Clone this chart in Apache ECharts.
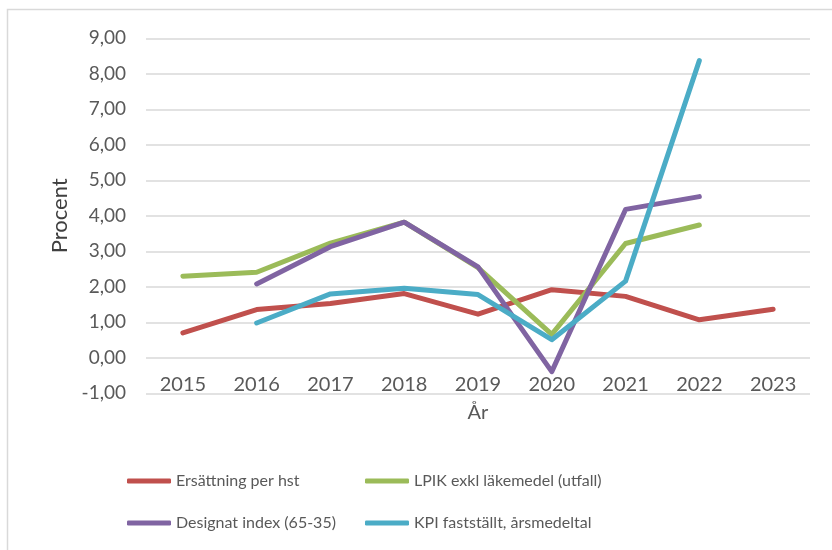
<!DOCTYPE html>
<html>
<head>
<meta charset="utf-8">
<script src="https://cdn.jsdelivr.net/npm/echarts@6/dist/echarts.min.js"></script>
<style>html,body{margin:0;padding:0;background:#fff}#c{width:832px;height:550px}</style>
</head>
<body>
<div id="c"></div>
<script>
const categories = ['2015','2016','2017','2018','2019','2020','2021','2022','2023'];
const ersattning = [0.70, 1.36, 1.53, 1.81, 1.23, 1.92, 1.73, 1.07, 1.37];
const lpik       = [2.30, 2.41, 3.23, 3.82, 2.54, 0.66, 3.22, 3.74, null];
const designat   = [null, 2.08, 3.13, 3.82, 2.56, -0.39, 4.18, 4.54, null];
const kpi        = [null, 0.98, 1.80, 1.96, 1.78, 0.51, 2.16, 8.37, null];
const seriesNames = ['Ersättning per hst','LPIK exkl läkemedel (utfall)','Designat index (65-35)','KPI fastställt, årsmedeltal'];
const colors = ['#C0504D','#9BBB59','#8064A2','#4BACC6'];

const font = 'Lato, "Noto Sans", sans-serif';
const chart = echarts.init(document.getElementById('c'), null, {renderer:'canvas'});
const mk = (name, data, color) => ({
  name, type:'line', data, symbol:'none', connectNulls:false,
  lineStyle:{color, width:5, cap:'round', join:'round'},
  itemStyle:{color}
});
chart.setOption({
  animation:false,
  backgroundColor:'#fff',
  graphic:[{type:'rect', shape:{x:7.5,y:9.5,width:840,height:560},
    style:{fill:'none', stroke:'#d9d9d9', lineWidth:1.5}, silent:true}],
  grid:{left:146, right:22, top:38.3, bottom:156.7, containLabel:false},
  xAxis:{type:'category', data:categories, boundaryGap:true, offset:-35.5,
    axisLine:{show:false}, axisTick:{show:false},
    axisLabel:{color:'#595959', fontSize:20, fontFamily:font, margin:17},
    name:'År', nameLocation:'middle', nameGap:45,
    nameTextStyle:{color:'#595959', fontSize:20, fontFamily:font}},
  yAxis:{type:'value', min:-1, max:9, interval:1,
    axisLine:{show:false}, axisTick:{show:false},
    splitLine:{lineStyle:{color:'#d9d9d9', width:1.5}},
    axisLabel:{color:'#595959', fontSize:19, fontFamily:font, margin:20,
      formatter:v=>v.toFixed(2).replace('.',',')},
    name:'Procent', nameLocation:'middle', nameGap:74, nameRotate:90,
    nameTextStyle:{color:'#404040', fontSize:22, fontFamily:font}},
  legend:[
    {data:[seriesNames[0], seriesNames[2]], orient:'vertical', left:127, top:471, padding:0,
     icon:'roundRect', itemWidth:44, itemHeight:5, itemGap:22,
     textStyle:{color:'#595959', fontSize:16, fontFamily:font, lineHeight:20}},
    {data:[seriesNames[1], seriesNames[3]], orient:'vertical', left:365, top:471, padding:0,
     icon:'roundRect', itemWidth:44, itemHeight:5, itemGap:22,
     textStyle:{color:'#595959', fontSize:16, fontFamily:font, lineHeight:20}}
  ],
  series:[
    mk(seriesNames[0], ersattning, colors[0]),
    mk(seriesNames[1], lpik, colors[1]),
    mk(seriesNames[2], designat, colors[2]),
    mk(seriesNames[3], kpi, colors[3])
  ]
});
</script>
</body>
</html>
